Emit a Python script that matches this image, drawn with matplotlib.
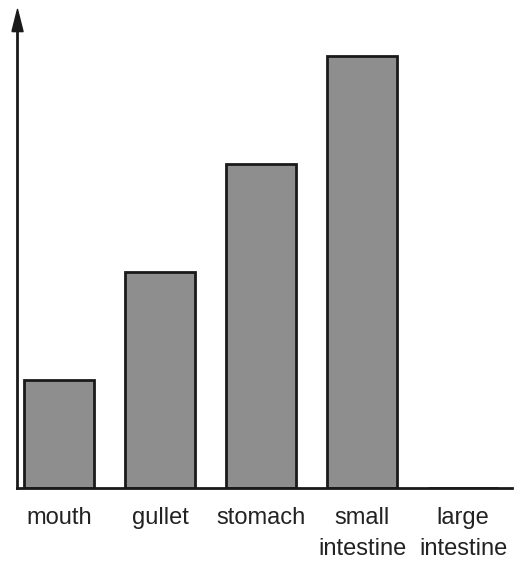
import matplotlib
matplotlib.use("Agg")
import matplotlib.pyplot as plt

categories = ["mouth", "gullet", "stomach", "small\nintestine", "large\nintestine"]
values = [1, 2, 3, 4, 0]

plt.rcParams['font.family'] = ['Liberation Sans', 'DejaVu Sans']

fig = plt.figure(figsize=(5.29, 5.67), dpi=100)
W, H = 529, 567
left, right, bottom, top = 17, 512, 488, 20
ax = fig.add_axes([left / W, 1 - bottom / H, (right - left) / W, (bottom - top) / H])

x = list(range(len(categories)))
ax.bar(x, values, width=0.69, color="#8e8e8e", edgecolor="#1a1a1a", linewidth=2)

ax.set_xlim(-0.416, 4.485)
ax.set_ylim(0, 4.33)
ax.spines['top'].set_visible(False)
ax.spines['right'].set_visible(False)
for s in ('left', 'bottom'):
    ax.spines[s].set_linewidth(2)
    ax.spines[s].set_color("#1a1a1a")
ax.set_yticks([])
ax.set_xticks(x)
ax.set_xticklabels(categories, fontsize=17, linespacing=1.5, color="#222222")
ax.tick_params(axis='x', length=0, pad=14)
for lbl in ax.get_xticklabels():
    lbl.set_verticalalignment('top')

# arrowhead at top of y-axis (narrow triangle)
arrow = [(-0.5, -1.0), (0.5, -1.0), (0.0, 1.0), (-0.5, -1.0)]
ax.plot([0], [1.0], marker=arrow, markersize=16, color="#1a1a1a",
        transform=ax.transAxes, clip_on=False)

fig.savefig("out.png", dpi=100)
